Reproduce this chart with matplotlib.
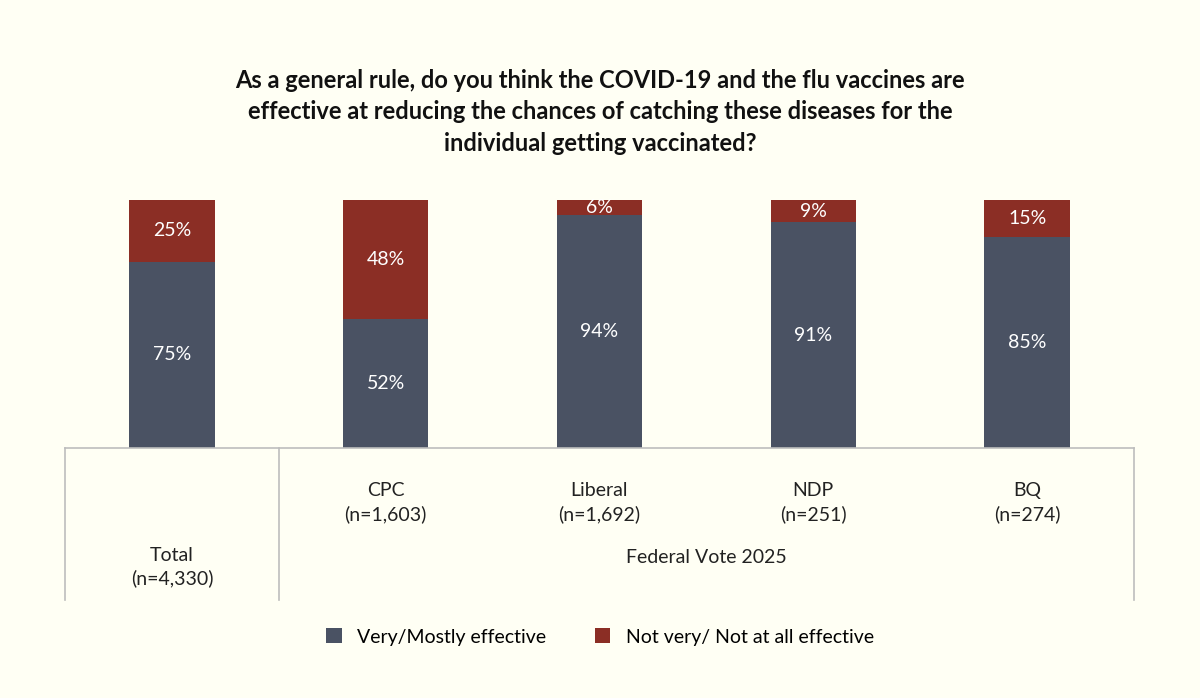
import matplotlib.pyplot as plt

plt.rcParams['font.family'] = ['Lato', 'DejaVu Sans']

groups = ['Total', 'CPC', 'Liberal', 'NDP', 'BQ']
sizes = ['(n=4,330)', '(n=1,603)', '(n=1,692)', '(n=251)', '(n=274)']
effective = [75, 52, 94, 91, 85]
not_effective = [25, 48, 6, 9, 15]

bg = '#FFFFF4'
c_eff = '#4A5263'
c_not = '#8B2E25'

fig = plt.figure(figsize=(12, 6.98), dpi=100, facecolor=bg)
ax = fig.add_axes([65/1200, 1-448/698, 1069/1200, 248/698])
ax.set_facecolor(bg)

x = range(len(groups))
ax.bar(x, effective, width=0.4, color=c_eff, label='Very/Mostly effective')
ax.bar(x, not_effective, width=0.4, bottom=effective, color=c_not,
       label='Not very/ Not at all effective')

for i in x:
    ax.text(i, effective[i]/2, f'{effective[i]}%', ha='center', va='center',
            color='white', fontsize=14)
    ax.text(i, effective[i] + not_effective[i]/2, f'{not_effective[i]}%',
            ha='center', va='center', color='white', fontsize=14)

ax.set_xlim(-0.5, 4.5)
ax.set_ylim(0, 100)
ax.axis('off')

# category table below bars
lc = '#BDBDBD'
bot = -61.3
ax.plot([-0.5, 4.5], [0, 0], color=lc, lw=1.2, clip_on=False)
for xv in [-0.5, 0.5, 4.5]:
    ax.plot([xv, xv], [0, bot], color=lc, lw=1.2, clip_on=False)

ax.text(0, -48, groups[0] + '\n' + sizes[0], ha='center', va='center',
        fontsize=14, color='#222222', linespacing=1.4)
for i in range(1, 5):
    ax.text(i, -22, groups[i] + '\n' + sizes[i], ha='center', va='center',
            fontsize=14, color='#222222', linespacing=1.4)
ax.text(2.5, -44, 'Federal Vote 2025', ha='center', va='center',
        fontsize=14, color='#222222')

fig.text(0.5, 0.84, 'As a general rule, do you think the COVID-19 and the flu vaccines are\n'
         'effective at reducing the chances of catching these diseases for the\n'
         'individual getting vaccinated?', ha='center', va='center',
         fontsize=17, fontweight='bold', color='#111111', linespacing=1.45)

fig.legend(loc='center', bbox_to_anchor=(0.5, 1-637/698), ncol=2, frameon=False,
           fontsize=14, handlelength=0.8, handleheight=0.8, columnspacing=2.5)

fig.savefig('out.png', dpi=100, facecolor=bg)
